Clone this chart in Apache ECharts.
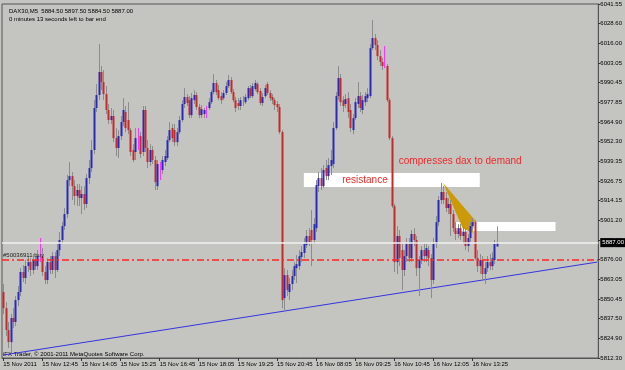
<!DOCTYPE html>
<html><head><meta charset="utf-8">
<script src="https://cdn.jsdelivr.net/npm/echarts@6/dist/echarts.min.js"></script>
<style>html,body{margin:0;padding:0;background:#c4c4c0;}#c{width:625px;height:370px;}</style>
</head><body><div id="c"></div>
<script>
// ---- data (DAX30, M5) ----
var xTickLabels = ['15 Nov 2011','15 Nov 12:45','15 Nov 14:05','15 Nov 15:25','15 Nov 16:45','15 Nov 18:05','15 Nov 19:25','15 Nov 20:45','16 Nov 08:05','16 Nov 09:25','16 Nov 10:45','16 Nov 12:05','16 Nov 13:25'];
var yTickLabels = ['5812.30','5824.90','5837.50','5850.45','5863.05','5876.00','5888.60','5901.20','5914.15','5926.75','5939.35','5952.30','5964.90','5977.85','5990.45','6003.05','6016.00','6028.60','6041.55'];
var slotCount = 244;
var opens = [5855.0,5844.6,5830.4,5822.6,5838.2,5835.6,5849.8,5855.0,5868.0,5864.1,5871.8,5874.4,5869.3,5875.7,5871.8,5878.3,5878.3,5868.0,5862.8,5874.4,
5869.3,5878.3,5869.3,5882.2,5888.7,5897.7,5905.5,5927.5,5930.1,5923.6,5917.2,5921.1,5915.9,5918.5,5912.0,5928.8,5935.3,5947.0,5974.2,5982.6,
5997.5,5991.0,5983.2,5972.9,5966.4,5969.0,5954.7,5948.3,5956.0,5965.1,5971.6,5966.4,5959.9,5947.0,5945.7,5954.7,5956.0,5945.7,5972.9,5948.3,
5939.2,5947.0,5940.5,5923.6,5935.3,5934.0,5939.2,5941.8,5953.4,5961.2,5959.9,5952.1,5958.6,5966.4,5976.8,5981.3,5979.3,5969.6,5979.3,5982.6,
5974.8,5969.6,5970.3,5972.2,5974.2,5978.0,5984.5,5990.4,5985.8,5981.9,5980.6,5983.9,5988.4,5992.3,5984.5,5979.3,5977.4,5975.5,5978.7,5978.0,
5980.6,5987.1,5981.9,5986.5,5989.7,5985.2,5977.4,5981.9,5989.7,5983.9,5981.3,5979.3,5976.8,5974.8,5958.6,5851.1,5866.0,5855.0,5860.2,5865.4,
5870.5,5871.8,5877.7,5880.3,5885.4,5891.3,5895.2,5888.7,5896.4,5923.6,5928.8,5923.6,5935.3,5930.1,5936.6,5937.9,5961.2,5981.9,5993.6,5979.3,
5976.8,5980.6,5972.9,5959.9,5967.7,5976.8,5981.9,5972.9,5978.0,5980.6,5981.9,6013.0,6019.5,6015.0,6007.8,6004.0,6002.7,6001.4,5979.3,5954.7,
5910.7,5874.4,5891.3,5882.2,5869.3,5878.3,5886.1,5877.0,5892.6,5888.7,5870.5,5875.7,5882.2,5878.3,5882.2,5877.0,5862.8,5886.1,5900.3,5914.6,
5919.8,5915.9,5909.4,5912.0,5905.5,5896.4,5892.6,5896.4,5891.3,5893.9,5884.8,5890.0,5897.7,5900.3,5877.0,5871.8,5875.7,5866.7,5870.5,5874.4,
5871.8,5875.7,5884.5];
var closes = [5844.6,5830.4,5822.6,5838.2,5835.6,5849.8,5855.0,5868.0,5864.1,5871.8,5874.4,5869.3,5875.7,5871.8,5878.3,5878.3,5868.0,5862.8,5874.4,5869.3,
5878.3,5869.3,5882.2,5888.7,5897.7,5905.5,5927.5,5930.1,5923.6,5917.2,5921.1,5915.9,5918.5,5912.0,5928.8,5935.3,5947.0,5974.2,5982.6,5997.5,
5991.0,5983.2,5972.9,5966.4,5969.0,5954.7,5948.3,5956.0,5965.1,5972.9,5961.2,5959.9,5945.7,5940.5,5954.7,5954.7,5944.4,5972.9,5948.3,5939.2,
5947.0,5940.5,5926.2,5937.9,5935.3,5940.5,5943.1,5953.4,5959.9,5954.7,5952.1,5958.6,5966.4,5976.8,5981.3,5977.4,5969.6,5980.6,5982.6,5974.8,
5969.6,5973.5,5972.9,5972.2,5978.0,5984.5,5990.4,5984.5,5980.6,5979.3,5983.9,5988.4,5992.3,5984.5,5979.3,5974.2,5975.5,5979.3,5978.7,5981.3,
5987.1,5981.9,5988.4,5990.4,5984.5,5977.4,5981.3,5987.1,5983.9,5980.6,5979.3,5976.1,5974.8,5958.6,5849.8,5866.0,5856.3,5860.2,5865.4,5871.8,
5873.1,5878.3,5880.9,5886.1,5891.3,5887.4,5888.7,5899.0,5924.3,5928.8,5923.6,5934.0,5930.1,5937.2,5940.5,5961.2,5981.9,5993.6,5978.0,5975.5,
5980.0,5971.6,5961.2,5967.7,5978.0,5981.9,5974.2,5979.3,5981.9,5983.2,6013.0,6019.5,6015.0,6007.8,6004.0,6001.4,6002.7,5979.3,5954.7,5910.7,
5874.4,5891.3,5877.0,5869.3,5878.3,5886.1,5877.0,5892.6,5888.7,5870.5,5875.7,5882.2,5878.3,5883.5,5877.0,5862.8,5886.1,5900.3,5914.6,5919.8,
5914.6,5909.4,5912.0,5905.5,5896.4,5892.6,5896.4,5891.3,5893.9,5884.8,5890.0,5897.7,5900.3,5877.0,5871.8,5875.7,5866.7,5870.5,5874.4,5871.8,
5877.0,5886.1,5887.0];
var lows = [5840.8,5826.5,5818.7,5816.1,5831.7,5833.0,5845.9,5852.4,5861.5,5860.2,5868.0,5865.4,5866.7,5869.3,5869.3,5874.4,5865.4,5860.2,5860.2,5866.7,
5866.7,5864.1,5868.0,5878.3,5886.1,5895.2,5902.9,5923.6,5914.6,5911.3,5910.7,5910.7,5905.5,5908.1,5909.4,5924.9,5932.7,5944.4,5971.6,5979.3,
5985.8,5979.3,5970.3,5963.8,5963.8,5952.1,5943.1,5941.8,5953.4,5962.5,5958.6,5957.3,5943.1,5939.2,5940.5,5947.0,5941.8,5943.1,5945.7,5935.3,
5936.6,5937.9,5921.1,5921.1,5927.5,5931.4,5936.6,5940.5,5952.1,5952.1,5949.5,5949.5,5957.3,5965.1,5974.2,5975.5,5967.7,5967.7,5976.8,5972.9,
5967.7,5967.7,5967.7,5967.7,5972.9,5976.8,5983.2,5982.6,5979.3,5976.8,5979.3,5982.6,5987.1,5983.2,5978.0,5971.6,5972.9,5972.9,5975.5,5976.8,
5979.3,5980.6,5980.6,5985.2,5983.2,5976.1,5975.5,5980.6,5982.6,5978.7,5976.8,5972.9,5971.6,5957.3,5844.6,5843.3,5852.4,5849.8,5856.3,5862.8,
5860.8,5869.3,5874.4,5877.0,5883.5,5884.8,5871.8,5886.1,5893.9,5919.8,5921.1,5922.4,5927.5,5927.5,5930.8,5935.3,5959.9,5979.3,5975.5,5971.6,
5974.2,5967.7,5958.6,5957.3,5966.4,5974.2,5971.6,5970.3,5975.5,5978.0,5980.6,6011.7,6011.7,6005.2,6001.4,5998.8,6000.1,5978.0,5953.4,5909.4,
5868.0,5866.7,5871.8,5856.3,5865.4,5874.4,5874.4,5874.4,5884.8,5865.4,5852.4,5873.1,5874.4,5874.4,5871.8,5851.1,5860.2,5883.5,5897.7,5912.0,
5912.0,5906.8,5905.5,5891.3,5893.9,5888.7,5890.0,5888.7,5886.1,5882.2,5880.9,5887.4,5895.2,5875.7,5868.0,5866.7,5862.8,5860.2,5868.0,5869.3,
5869.3,5873.1,5884.5];
var highs = [5860.2,5848.5,5835.6,5840.8,5844.6,5852.4,5858.9,5870.5,5872.5,5875.7,5878.3,5877.0,5879.6,5878.3,5882.2,5890.0,5883.5,5871.8,5877.0,5878.3,
5880.9,5880.9,5886.1,5893.9,5900.3,5909.4,5930.8,5939.2,5932.7,5927.5,5924.9,5924.9,5923.6,5923.6,5931.4,5940.5,5953.4,5979.3,5989.7,6015.6,
6001.4,5998.8,5988.4,5976.8,5974.2,5972.9,5961.2,5959.9,5969.0,5980.6,5975.5,5978.0,5961.2,5950.8,5961.2,5961.2,5958.6,5975.5,5975.5,5953.4,
5950.8,5949.5,5943.1,5940.5,5939.2,5943.1,5947.0,5956.0,5965.1,5963.8,5963.8,5961.2,5969.0,5979.3,5987.1,5983.2,5981.9,5983.9,5985.8,5984.5,
5976.8,5976.1,5974.2,5975.5,5980.6,5985.8,5996.2,5992.3,5989.1,5984.5,5985.8,5991.0,5995.5,5994.2,5986.5,5981.3,5980.6,5981.3,5981.9,5983.2,
5988.4,5989.1,5990.4,5992.3,5991.0,5987.1,5983.9,5989.1,5991.0,5985.8,5983.2,5980.6,5978.7,5976.8,5959.9,5870.5,5869.3,5864.1,5869.3,5874.4,
5879.0,5882.2,5884.8,5890.0,5895.2,5896.4,5908.1,5902.9,5927.5,5932.7,5935.3,5937.2,5940.5,5941.8,5947.0,5965.1,5984.5,6001.4,5996.2,5981.9,
5983.2,5984.5,5976.8,5970.3,5980.6,5991.0,5984.5,5982.6,5984.5,5987.1,6015.6,6031.2,6022.1,6018.2,6011.7,6006.5,6014.3,6002.7,5980.6,5956.0,
5912.0,5897.7,5895.2,5886.1,5882.2,5890.0,5890.0,5895.2,5896.4,5891.3,5878.3,5884.8,5886.1,5886.1,5884.8,5879.6,5890.0,5904.2,5917.2,5925.6,
5923.6,5919.8,5915.9,5914.6,5908.1,5900.3,5899.0,5899.0,5897.7,5896.4,5892.6,5900.3,5902.9,5901.6,5882.2,5879.6,5878.3,5874.4,5878.3,5879.6,
5880.9,5888.7,5897.5];
// annotations (bar index, price)
var trendIdx = [0, 243];
var trendPrice = [5814.2, 5874.4];
var bidPrice = 5887.00;
var orderPrice = 5876.00;
var orderLabel = '#50036911 buy';
var resistIdx = [123, 195], resistPrice = [5932.1, 5923.0];
var demandIdx = [185, 226], demandPrice = [5900.3, 5894.5];
var triIdx = [180, 193, 192, 188], triPrice = [5925.6, 5901.6, 5893.2, 5896.4];
var textNotes = [
  {idx: 148, price: 5927.5, text: 'resistance'},
  {idx: 187, price: 5939.8, text: 'compresses dax to demand'}
];
// ---- build ----
var cats = [];
for (var i = 0; i < slotCount; i++) cats.push(String(i));
var candleData = opens.map(function (o, k) { return [k, o, closes[k], lows[k], highs[k]]; });
var FONT = 'Liberation Sans';
var chart = echarts.init(document.getElementById('c'), null, {renderer: 'canvas'});
chart.setOption({
  backgroundColor: '#c4c4c0',
  animation: false,
  textStyle: {fontFamily: FONT},
  title: {
    text: 'DAX30,M5  5884.50 5897.50 5884.50 5887.00\n0 minutes 13 seconds left to bar end',
    left: 4, top: 2,
    textStyle: {fontSize: 6, fontWeight: 'normal', color: '#000', fontFamily: FONT, lineHeight: 8}
  },
  graphic: [{
    type: 'text', left: 3, top: 351,
    style: {text: 'iFX Trader, \u00a9 2001-2011 MetaQuotes Software Corp.', fontSize: 6, fill: '#000', fontFamily: FONT}
  }],
  grid: {left: 2, right: 24, top: 4, bottom: 12, show: true, borderColor: '#555', borderWidth: 1, backgroundColor: 'transparent'},
  xAxis: {
    type: 'category', data: cats, boundaryGap: true,
    axisLine: {show: true, lineStyle: {color: '#555'}},
    axisTick: {show: true, alignWithLabel: true, length: 3, lineStyle: {color: '#333'},
      interval: function (idx) { return idx % 16 === 0 && idx / 16 < xTickLabels.length; }},
    axisLabel: {fontSize: 6, color: '#000', align: 'left', margin: 3, fontFamily: FONT,
      interval: function (idx) { return idx % 16 === 0 && idx / 16 < xTickLabels.length; },
      formatter: function (v, idx) { return xTickLabels[idx / 16] || ''; }},
    splitLine: {show: false}
  },
  yAxis: [{
    type: 'value', min: 5812.30, max: 6041.55, show: false, splitLine: {show: false}
  }, {
    type: 'category', data: yTickLabels, boundaryGap: false, position: 'right',
    axisLine: {show: true, lineStyle: {color: '#555'}},
    axisTick: {show: true, length: 2, lineStyle: {color: '#333'}},
    axisLabel: {fontSize: 6, color: '#000', margin: 2, fontFamily: FONT, interval: 0},
    splitLine: {show: false}
  }],
  series: [{
    type: 'line', name: 'trend', z: 1, silent: true,
    data: [[trendIdx[0], trendPrice[0]], [trendIdx[1], trendPrice[1]]],
    symbol: 'none', lineStyle: {color: '#3434e0', width: 1},
    markArea: {
      silent: true,
      itemStyle: {color: '#ffffff'},
      data: [
        [{coord: [resistIdx[0], resistPrice[0]]}, {coord: [resistIdx[1], resistPrice[1]]}],
        [{coord: [demandIdx[0], demandPrice[0]]}, {coord: [demandIdx[1], demandPrice[1]]}]
      ]
    },
    markLine: {
      silent: true, symbol: ['none', 'none'],
      data: [
        {yAxis: bidPrice, lineStyle: {color: '#f2f2f2', width: 1.5, type: 'solid'},
         label: {show: true, position: 'end', distance: 2, formatter: bidPrice.toFixed(2), backgroundColor: '#000', color: '#fff',
           fontSize: 6, padding: [2, 3, 1, 2], fontFamily: FONT}},
        {yAxis: orderPrice, lineStyle: {color: '#ff2424', width: 1.6, type: [7, 3, 2, 3], opacity: 1},
         label: {show: true, position: 'insideStartTop', distance: 1, formatter: orderLabel, color: '#202020', fontSize: 6, fontFamily: FONT}}
      ]
    },
    markPoint: {
      silent: true, symbol: 'circle', symbolSize: 0,
      label: {show: true, position: 'inside', color: '#ee2a2a', fontSize: 10, fontFamily: FONT},
      data: textNotes.map(function (t) { return {coord: [t.idx, t.price], label: {formatter: t.text}}; })
    }
  }, {
    type: 'custom', name: 'triangle', z: 2, silent: true,
    data: [[triIdx[0], triPrice[0]]],
    renderItem: function (params, api) {
      var pts = triIdx.map(function (ix, k) { return api.coord([ix, triPrice[k]]); });
      return {type: 'polygon', shape: {points: pts}, style: {fill: '#cc9a06'}};
    }
  }, {
    type: 'custom', name: 'DAX30', z: 3, silent: true,
    data: candleData,
    encode: {x: 0, y: [1, 2, 3, 4]},
    renderItem: function (params, api) {
      var ix = api.value(0), o = api.value(1), c = api.value(2), l = api.value(3), h = api.value(4);
      var pO = api.coord([ix, o]), pC = api.coord([ix, c]), pL = api.coord([ix, l]), pH = api.coord([ix, h]);
      var cx = Math.round(pO[0]);
      var doji = o === c;
      var kids = [{type: 'line', shape: {x1: cx + 0.5, y1: pH[1], x2: cx + 0.5, y2: pL[1]},
        style: {stroke: doji ? '#ff33ff' : '#8c8c8c', lineWidth: 1}}];
      if (!doji) {
        var top = Math.min(pO[1], pC[1]), bot = Math.max(pO[1], pC[1]);
        kids.push({type: 'rect', shape: {x: cx - 0.5, y: top, width: 2, height: Math.max(1, bot - top)},
          style: {fill: c > o ? '#2a2ab8' : '#c42a2a'}});
      }
      return {type: 'group', children: kids};
    }
  }]
});
</script></body></html>
